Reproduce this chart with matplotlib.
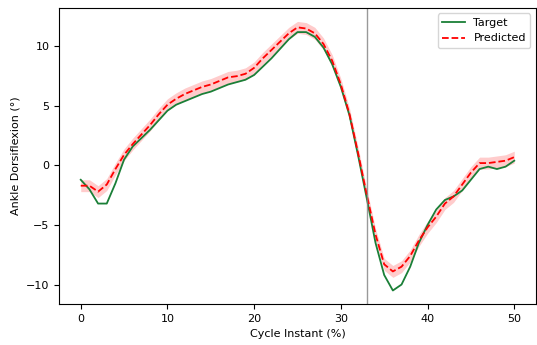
import numpy as np
import matplotlib
matplotlib.use("Agg")
import matplotlib.pyplot as plt

plt.rcParams["font.size"] = 8
plt.rcParams["axes.linewidth"] = 0.8

# cycle instants (%)
cycle = np.arange(51)

target = [-1.2, -2.0, -3.2, -3.2, -1.5, 0.5, 1.6, 2.3, 3.0, 3.8,
          4.6, 5.1, 5.4, 5.7, 6.0, 6.2, 6.5, 6.8, 7.0, 7.2,
          7.6, 8.3, 9.0, 9.8, 10.6, 11.2, 11.2, 10.8, 9.9, 8.5,
          6.6, 4.2, 0.8, -2.8, -6.5, -9.2, -10.5, -10.0, -8.5, -6.5,
          -5.0, -3.7, -2.9, -2.6, -2.1, -1.2, -0.3, -0.1, -0.3, -0.1,
          0.4]

predicted = [-1.7, -1.7, -2.2, -1.6, -0.3, 0.9, 1.8, 2.6, 3.4, 4.3,
             5.1, 5.6, 6.0, 6.3, 6.6, 6.8, 7.1, 7.4, 7.5, 7.7,
             8.2, 9.0, 9.7, 10.4, 11.1, 11.6, 11.5, 11.1, 10.2, 8.8,
             6.8, 4.3, 1.0, -2.5, -5.8, -8.3, -8.9, -8.5, -7.6, -6.3,
             -5.2, -4.3, -3.2, -2.6, -1.6, -0.6, 0.2, 0.2, 0.3, 0.4,
             0.7]

pred_std = 0.5
toe_off = 33

pred = np.array(predicted)

fig, ax = plt.subplots(figsize=(5.37, 3.45), dpi=100)
fig.subplots_adjust(left=0.11, right=0.998, top=0.977, bottom=0.119)

ax.plot(cycle, target, color="#1a7f37", linewidth=1.3, label="Target")
ax.plot(cycle, pred, color="red", linestyle="--", linewidth=1.3, label="Predicted")
ax.fill_between(cycle, pred - pred_std, pred + pred_std, color="red", alpha=0.2, linewidth=0)
ax.axvline(toe_off, color="grey", alpha=0.8, linewidth=1.0)

ax.set_xlabel("Cycle Instant (%)")
ax.set_ylabel("Ankle Dorsiflexion (°)")
ax.legend(loc="upper right")

plt.savefig("out.png", dpi=100)
